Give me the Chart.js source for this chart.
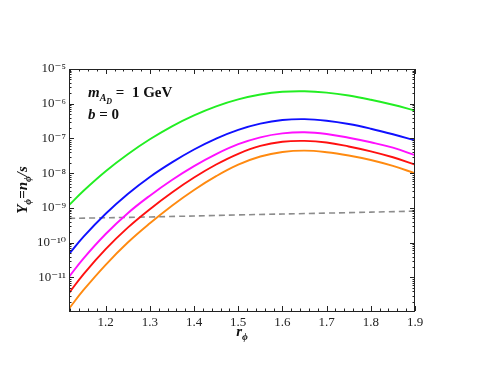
<!DOCTYPE html>
<html>
<head>
<meta charset="utf-8">
<script src="https://cdn.jsdelivr.net/npm/chart.js@4.4.0/dist/chart.umd.min.js"></script>
<style>
  html, body { margin: 0; padding: 0; background: #fff; }
  #wrap { width: 485px; height: 381px; }
</style>
</head>
<body>
<div id="wrap"><canvas id="yield" width="485" height="381"></canvas></div>
<script>
// r_phi grid the curves were read at
var rValues = [1.117, 1.15, 1.2, 1.25, 1.3, 1.35, 1.4, 1.45, 1.5, 1.55, 1.6, 1.65, 1.7, 1.75, 1.8, 1.85, 1.9];

var yGreen   = [1.20e-9, 3.13e-9, 1.14e-8, 3.52e-8, 9.46e-8, 2.24e-7, 4.62e-7, 8.41e-7, 1.33e-6, 1.84e-6, 2.21e-6, 2.29e-6, 2.09e-6, 1.72e-6, 1.30e-6, 9.33e-7, 6.38e-7];
var yBlue    = [4.68e-11, 1.49e-10, 6.79e-10, 2.52e-9, 7.80e-9, 2.05e-8, 4.81e-8, 9.93e-8, 1.77e-7, 2.67e-7, 3.40e-7, 3.61e-7, 3.25e-7, 2.61e-7, 1.91e-7, 1.32e-7, 8.75e-8];
var yMagenta = [1.04e-11, 3.55e-11, 1.78e-10, 7.08e-10, 2.26e-9, 6.38e-9, 1.60e-8, 3.55e-8, 6.84e-8, 1.08e-7, 1.40e-7, 1.51e-7, 1.35e-7, 1.05e-7, 7.76e-8, 5.43e-8, 3.31e-8];
var yRed     = [3.55e-12, 1.25e-11, 6.53e-11, 2.72e-10, 9.23e-10, 2.79e-9, 7.50e-9, 1.78e-8, 3.63e-8, 6.10e-8, 8.04e-8, 8.51e-8, 7.67e-8, 5.89e-8, 4.27e-8, 2.88e-8, 1.78e-8];
var yOrange  = [1.26e-12, 4.35e-12, 2.31e-11, 1.01e-10, 3.61e-10, 1.16e-9, 3.30e-9, 8.22e-9, 1.76e-8, 3.02e-8, 4.07e-8, 4.47e-8, 4.03e-8, 3.24e-8, 2.40e-8, 1.62e-8, 1.00e-8];

// grey dashed reference line
var dashR = [1.117, 1.3, 1.5, 1.7, 1.9];
var dashY = [5.0e-10, 5.5e-10, 6.3e-10, 7.1e-10, 8.1e-10];

var xTicks = [1.2, 1.3, 1.4, 1.5, 1.6, 1.7, 1.8, 1.9];
var yTicks = [1e-11, 1e-10, 1e-9, 1e-8, 1e-7, 1e-6, 1e-5];

var X_MIN = 1.117, X_MAX = 1.9, Y_MIN = 1.08e-12, Y_MAX = 1e-5;

function pts(xs, ys) {
    return xs.map(function (x, i) { return { x: x, y: ys[i] }; });
}

var SUP = { '-': '\u207B', '0': '\u2070', '1': '\u00B9', '2': '\u00B2', '3': '\u00B3', '4': '\u2074',
            '5': '\u2075', '6': '\u2076', '7': '\u2077', '8': '\u2078', '9': '\u2079' };
function powLabel(v) {
    var e = String(Math.round(Math.log10(v)));
    return '10' + e.split('').map(function (c) { return SUP[c]; }).join('');
}

var SERIF = '"Liberation Serif", "DejaVu Serif", serif';
var INK = '#222';

function line(label, xs, ys, color, dash) {
    return {
        label: label,
        data: pts(xs, ys),
        borderColor: color,
        borderWidth: dash ? 1.6 : 1.9,
        borderDash: dash || [],
        pointRadius: 0,
        fill: false,
        tension: 0.4
    };
}

// draw a run of text pieces (for sub/superscripts)
function drawRuns(ctx, runs, x, y, center) {
    var total = 0;
    runs.forEach(function (r) { ctx.font = r.font; total += ctx.measureText(r.t).width; });
    var cx = center ? x - total / 2 : x;
    runs.forEach(function (r) {
        ctx.font = r.font;
        ctx.fillText(r.t, cx, y + (r.dy || 0));
        cx += ctx.measureText(r.t).width;
    });
}

var frame = {
    id: 'frame',
    afterDatasetsDraw: function (chart) {
        var ctx = chart.ctx, a = chart.chartArea, xs = chart.scales.x, ys = chart.scales.y;
        ctx.save();
        ctx.strokeStyle = INK;
        ctx.lineWidth = 1;
        ctx.strokeRect(a.left + 0.5, a.top + 0.5, a.right - a.left - 1, a.bottom - a.top);
        ctx.beginPath();
        // x ticks every 0.02, long at each 0.1
        for (var k = 56; k <= 95; k++) {
            var v = k / 50;
            if (v < X_MIN || v > X_MAX) continue;
            var px = Math.round(xs.getPixelForValue(v)) + 0.5;
            var len = (k % 5 === 0) ? 5 : 2.5;
            ctx.moveTo(px, a.bottom); ctx.lineTo(px, a.bottom - len);
            ctx.moveTo(px, a.top); ctx.lineTo(px, a.top + len);
        }
        // log minor ticks
        for (var e = -12; e <= -6; e++) {
            for (var m = 1; m <= 9; m++) {
                var val = m * Math.pow(10, e);
                if (val < Y_MIN || val > Y_MAX) continue;
                var py = Math.round(ys.getPixelForValue(val)) + 0.5;
                var l = (m === 1) ? 5 : 2.5;
                ctx.moveTo(a.left, py); ctx.lineTo(a.left + l, py);
                ctx.moveTo(a.right, py); ctx.lineTo(a.right - l, py);
            }
        }
        ctx.stroke();
        ctx.restore();
    },
    afterDraw: function (chart) {
        var ctx = chart.ctx, a = chart.chartArea;
        var bi = 'bold italic 15px ' + SERIF, biS = 'bold italic 10px ' + SERIF, biSS = 'bold italic 8px ' + SERIF;
        var b = 'bold 15px ' + SERIF;
        ctx.save();
        ctx.fillStyle = '#111';
        ctx.textBaseline = 'alphabetic';
        ctx.textAlign = 'left';
        // annotation
        drawRuns(ctx, [
            { t: 'm', font: bi }, { t: 'A', font: biS, dy: 4 }, { t: 'D', font: biSS, dy: 7 },
            { t: ' =  1 GeV', font: b }
        ], 88, 97, false);
        drawRuns(ctx, [{ t: 'b', font: bi }, { t: ' = 0', font: b }], 88, 119, false);
        // x title
        drawRuns(ctx, [{ t: 'r', font: bi }, { t: '\u03D5', font: biS, dy: 4 }], (a.left + a.right) / 2, 336, true);
        // y title
        ctx.translate(27, (a.top + a.bottom) / 2);
        ctx.rotate(-Math.PI / 2);
        drawRuns(ctx, [
            { t: 'Y', font: bi }, { t: '\u03D5', font: biS, dy: 4 }, { t: '=', font: b },
            { t: 'n', font: bi }, { t: '\u03D5', font: biS, dy: 4 }, { t: '/s', font: bi }
        ], 0, 0, true);
        ctx.restore();
    }
};

new Chart(document.getElementById('yield').getContext('2d'), {
    type: 'line',
    data: {
        datasets: [
            line('green', rValues, yGreen, '#22ee22'),
            line('blue', rValues, yBlue, '#1010ff'),
            line('magenta', rValues, yMagenta, '#ff10ff'),
            line('red', rValues, yRed, '#ff1010'),
            line('orange', rValues, yOrange, '#ff8a10'),
            line('bound', dashR, dashY, '#8c8c8c', [6, 4])
        ]
    },
    options: {
        responsive: false,
        animation: false,
        devicePixelRatio: 1,
        layout: { padding: { top: 69, right: 70, left: 0, bottom: 0 } },
        plugins: { legend: { display: false }, tooltip: { enabled: false } },
        scales: {
            x: {
                type: 'linear', min: X_MIN, max: X_MAX,
                afterBuildTicks: function (s) { s.ticks = xTicks.map(function (v) { return { value: v }; }); },
                afterFit: function (s) { s.height = 70; },
                grid: { display: false, drawTicks: false },
                border: { display: false },
                ticks: {
                    autoSkip: false, maxRotation: 0, padding: 4, color: INK,
                    font: { family: SERIF, size: 13 },
                    callback: function (v) { return Number(v).toFixed(1); }
                }
            },
            y: {
                type: 'logarithmic', min: Y_MIN, max: Y_MAX,
                afterBuildTicks: function (s) { s.ticks = yTicks.map(function (v) { return { value: v }; }); },
                afterFit: function (s) { s.width = 69; },
                grid: { display: false, drawTicks: false },
                border: { display: false },
                ticks: {
                    autoSkip: false, padding: 3, color: INK,
                    font: { family: SERIF, size: 13 },
                    callback: function (v) { return powLabel(v); }
                }
            }
        }
    },
    plugins: [frame]
});
</script>
</body>
</html>
